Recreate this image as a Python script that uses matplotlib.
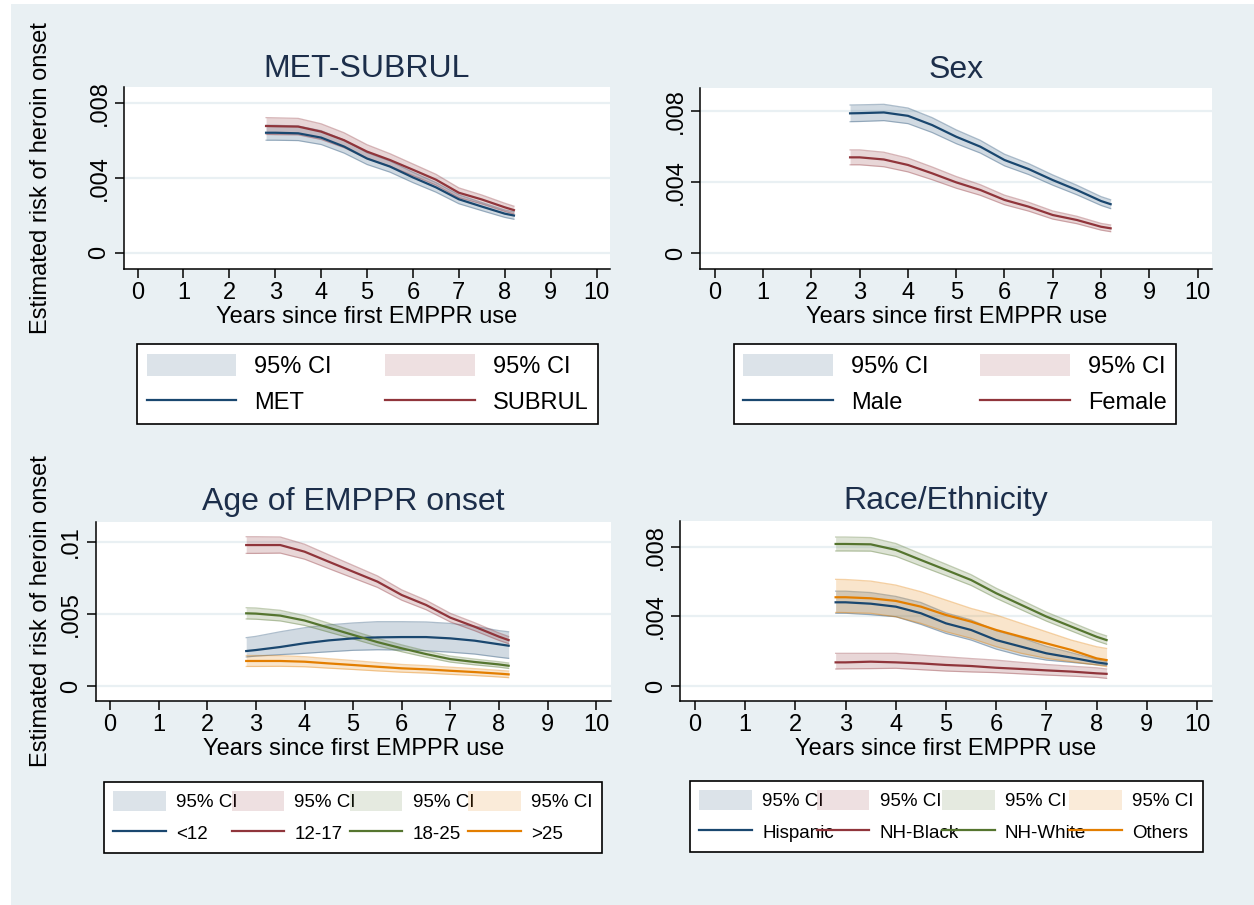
import matplotlib.pyplot as plt
import numpy as np
from matplotlib.lines import Line2D
from matplotlib.patches import Patch, Rectangle

plt.rcParams['font.family'] = ['Liberation Sans', 'DejaVu Sans']

BG = '#e9f0f3'
TITLE_COLOR = '#1c2e4a'
NAVY = '#1a476f'
MAROON = '#90353b'
GREEN = '#55752f'
ORANGE = '#e37e00'

# years since first EMPPR use (evaluation points of the fitted curves)
years = [2.8, 3.0, 3.5, 4.0, 4.5, 5.0, 5.5, 6.0, 6.5, 7.0, 7.5, 8.0, 8.2]

# estimated risk of heroin onset (x 1000) with 95% CI bounds
met = [6.43, 6.43, 6.40, 6.17, 5.69, 5.05, 4.62, 4.04, 3.51, 2.87, 2.48, 2.10, 2.00]
met_lo = [6.03, 6.03, 6.01, 5.80, 5.34, 4.73, 4.32, 3.76, 3.25, 2.63, 2.26, 1.90, 1.80]
met_hi = [6.83, 6.83, 6.79, 6.54, 6.04, 5.37, 4.92, 4.32, 3.77, 3.11, 2.70, 2.30, 2.20]
subrul = [6.79, 6.78, 6.76, 6.49, 6.03, 5.42, 4.97, 4.45, 3.92, 3.22, 2.86, 2.44, 2.29]
subrul_lo = [6.34, 6.33, 6.32, 6.07, 5.63, 5.05, 4.63, 4.14, 3.63, 2.96, 2.62, 2.22, 2.08]
subrul_hi = [7.24, 7.23, 7.20, 6.91, 6.43, 5.79, 5.31, 4.76, 4.21, 3.48, 3.10, 2.66, 2.50]

male = [7.87, 7.88, 7.92, 7.73, 7.21, 6.55, 5.99, 5.24, 4.73, 4.11, 3.55, 2.93, 2.75]
male_lo = [7.40, 7.41, 7.46, 7.29, 6.79, 6.16, 5.63, 4.91, 4.42, 3.82, 3.28, 2.68, 2.50]
male_hi = [8.34, 8.35, 8.38, 8.17, 7.63, 6.94, 6.35, 5.57, 5.04, 4.40, 3.82, 3.18, 3.00]
female = [5.39, 5.39, 5.27, 4.96, 4.49, 3.98, 3.55, 2.99, 2.61, 2.14, 1.86, 1.48, 1.39]
female_lo = [4.97, 4.97, 4.86, 4.57, 4.13, 3.65, 3.25, 2.72, 2.36, 1.91, 1.65, 1.29, 1.20]
female_hi = [5.81, 5.81, 5.68, 5.35, 4.85, 4.31, 3.85, 3.26, 2.86, 2.37, 2.07, 1.67, 1.58]

age_u12 = [2.43, 2.50, 2.71, 2.97, 3.17, 3.31, 3.38, 3.40, 3.40, 3.31, 3.15, 2.90, 2.80]
age_u12_lo = [2.02, 2.08, 2.18, 2.27, 2.38, 2.48, 2.52, 2.50, 2.45, 2.35, 2.22, 2.00, 1.92]
age_u12_hi = [3.36, 3.45, 3.77, 4.05, 4.25, 4.38, 4.47, 4.47, 4.45, 4.35, 4.15, 3.85, 3.77]
age_12_17 = [9.79, 9.79, 9.79, 9.33, 8.63, 7.94, 7.25, 6.32, 5.63, 4.75, 4.12, 3.43, 3.19]
age_12_17_lo = [9.21, 9.21, 9.23, 8.81, 8.15, 7.50, 6.85, 5.96, 5.30, 4.45, 3.84, 3.17, 2.94]
age_12_17_hi = [10.37, 10.37, 10.35, 9.85, 9.11, 8.38, 7.65, 6.68, 5.96, 5.05, 4.40, 3.69, 3.44]
age_18_25 = [5.05, 5.03, 4.89, 4.55, 4.05, 3.55, 3.05, 2.62, 2.22, 1.87, 1.67, 1.50, 1.41]
age_18_25_lo = [4.66, 4.64, 4.52, 4.21, 3.74, 3.27, 2.79, 2.38, 2.00, 1.66, 1.47, 1.31, 1.22]
age_18_25_hi = [5.44, 5.42, 5.26, 4.89, 4.36, 3.83, 3.31, 2.86, 2.44, 2.08, 1.87, 1.69, 1.60]
age_o25 = [1.74, 1.74, 1.74, 1.69, 1.57, 1.46, 1.34, 1.23, 1.16, 1.06, 0.97, 0.86, 0.81]
age_o25_lo = [1.36, 1.36, 1.37, 1.34, 1.24, 1.15, 1.05, 0.96, 0.90, 0.81, 0.73, 0.63, 0.58]
age_o25_hi = [2.12, 2.12, 2.11, 2.04, 1.90, 1.77, 1.63, 1.50, 1.42, 1.31, 1.21, 1.09, 1.04]

hispanic = [4.81, 4.81, 4.73, 4.56, 4.18, 3.60, 3.22, 2.64, 2.26, 1.88, 1.63, 1.36, 1.28]
hispanic_lo = [4.18, 4.18, 4.10, 3.98, 3.54, 3.02, 2.64, 2.12, 1.74, 1.49, 1.36, 1.22, 1.18]
hispanic_hi = [5.45, 5.45, 5.37, 5.15, 4.80, 4.20, 3.80, 3.18, 2.78, 2.28, 1.92, 1.52, 1.40]
nh_black = [1.36, 1.36, 1.40, 1.36, 1.30, 1.21, 1.15, 1.05, 0.98, 0.90, 0.83, 0.73, 0.70]
nh_black_lo = [0.98, 0.99, 1.00, 1.02, 0.94, 0.86, 0.81, 0.77, 0.70, 0.63, 0.57, 0.50, 0.44]
nh_black_hi = [1.88, 1.88, 1.88, 1.88, 1.78, 1.68, 1.58, 1.49, 1.36, 1.24, 1.14, 1.05, 0.98]
nh_white = [8.16, 8.16, 8.14, 7.82, 7.24, 6.67, 6.09, 5.33, 4.66, 3.99, 3.41, 2.83, 2.64]
nh_white_lo = [7.76, 7.76, 7.75, 7.45, 6.89, 6.34, 5.78, 5.04, 4.38, 3.73, 3.16, 2.59, 2.40]
nh_white_hi = [8.56, 8.56, 8.53, 8.19, 7.59, 7.00, 6.40, 5.62, 4.94, 4.25, 3.66, 3.07, 2.88]
others = [5.10, 5.10, 5.04, 4.89, 4.56, 4.08, 3.70, 3.22, 2.83, 2.45, 2.07, 1.59, 1.49]
others_lo = [4.23, 4.22, 4.18, 3.98, 3.60, 3.12, 2.74, 2.26, 1.88, 1.59, 1.40, 1.21, 1.11]
others_hi = [6.13, 6.12, 6.03, 5.80, 5.42, 4.94, 4.46, 4.08, 3.60, 3.12, 2.64, 2.26, 2.16]

ticks_008 = [0, 0.004, 0.008]
labels_008 = ['0', '.004', '.008']
ticks_01 = [0, 0.005, 0.01]
labels_01 = ['0', '.005', '.01']

YLABEL = 'Estimated risk of heroin onset'
XLABEL = 'Years since first EMPPR use'

panels = [
    dict(title='MET-SUBRUL', rect=[0.0987, 0.7028, 0.3880, 0.2011],
         ylim=(-0.86e-3, 8.88e-3), yticks=ticks_008, ylabels=labels_008,
         ylabel_x=-0.148, title_pad=7,
         legend_box=(0.1093, 0.5304, 0.3676, 0.0906), legend_fs=17,
         groups=[('MET', met, met_lo, met_hi, NAVY),
                 ('SUBRUL', subrul, subrul_lo, subrul_hi, MAROON)]),
    dict(title='Sex', rect=[0.5586, 0.7028, 0.4079, 0.2000],
         ylim=(-0.90e-3, 9.30e-3), yticks=ticks_008, ylabels=labels_008,
         ylabel_x=None, title_pad=7,
         legend_box=(0.5853, 0.5304, 0.3525, 0.0906), legend_fs=17,
         groups=[('Male', male, male_lo, male_hi, NAVY),
                 ('Female', female, female_lo, female_hi, MAROON)]),
    dict(title='Age of EMPPR onset', rect=[0.0762, 0.2254, 0.4108, 0.1978],
         ylim=(-1.04e-3, 11.39e-3), yticks=ticks_01, ylabels=labels_01,
         ylabel_x=-0.085, title_pad=9,
         legend_box=(0.0829, 0.0530, 0.3971, 0.0884), legend_fs=13.5,
         groups=[('<12', age_u12, age_u12_lo, age_u12_hi, NAVY),
                 ('12-17', age_12_17, age_12_17_lo, age_12_17_hi, MAROON),
                 ('18-25', age_18_25, age_18_25_lo, age_18_25_hi, GREEN),
                 ('>25', age_o25, age_o25_lo, age_o25_hi, ORANGE)]),
    dict(title='Race/Ethnicity', rect=[0.5423, 0.2254, 0.4242, 0.1989],
         ylim=(-0.86e-3, 9.48e-3), yticks=ticks_008, ylabels=labels_008,
         ylabel_x=None, title_pad=9,
         legend_box=(0.5502, 0.0541, 0.4091, 0.0884), legend_fs=13.5,
         groups=[('Hispanic', hispanic, hispanic_lo, hispanic_hi, NAVY),
                 ('NH-Black', nh_black, nh_black_lo, nh_black_hi, MAROON),
                 ('NH-White', nh_white, nh_white_lo, nh_white_hi, GREEN),
                 ('Others', others, others_lo, others_hi, ORANGE)]),
]

fig = plt.figure(figsize=(12.54, 9.05), dpi=100, facecolor='white')
# graph region (leaves a thin white strip at the left and top)
fig.patches.append(Rectangle((11 / 1254, 0), 1 - 11 / 1254, 1 - 4 / 905,
                             transform=fig.transFigure, facecolor=BG,
                             edgecolor='none', zorder=-10))

x = np.array(years)
for p in panels:
    ax = fig.add_axes(p['rect'])
    ax.set_facecolor('white')

    # CI bands first, then the point estimates on top
    for label, mid, lo, hi, color in p['groups']:
        lo = np.array(lo) * 1e-3
        hi = np.array(hi) * 1e-3
        ax.fill_between(x, lo, hi, color=color, alpha=0.2, lw=0, zorder=2)
        ax.plot(x, lo, color=color, alpha=0.35, lw=0.9, zorder=2)
        ax.plot(x, hi, color=color, alpha=0.35, lw=0.9, zorder=2)
    for label, mid, lo, hi, color in p['groups']:
        ax.plot(x, np.array(mid) * 1e-3, color=color, lw=1.6, zorder=3)

    ax.set_xlim(-0.3, 10.3)
    ax.set_ylim(*p['ylim'])
    ax.set_xticks(range(11))
    ax.set_yticks(p['yticks'], labels=p['ylabels'])
    for lbl in ax.get_yticklabels():
        lbl.set_rotation(90)
        lbl.set_va('center')
    ax.grid(axis='y', color=BG, lw=1.6, zorder=1)
    ax.set_axisbelow(True)
    for side in ('top', 'right'):
        ax.spines[side].set_visible(False)
    for side in ('left', 'bottom'):
        ax.spines[side].set_linewidth(1.1)
    ax.tick_params(direction='out', length=6.5, width=1.1, labelsize=17, pad=3)

    ax.set_title(p['title'], fontsize=23, color=TITLE_COLOR, pad=p['title_pad'])
    ax.set_xlabel(XLABEL, fontsize=17, labelpad=1)
    if p['ylabel_x'] is not None:
        ax.set_ylabel(YLABEL, fontsize=17)
        ax.yaxis.set_label_coords(p['ylabel_x'], 0.5)

    handles, names = [], []
    for label, mid, lo, hi, color in p['groups']:
        handles.append(Patch(facecolor=color, alpha=0.15, edgecolor='none'))
        names.append('95% CI')
        handles.append(Line2D([], [], color=color, lw=1.6))
        names.append(label)

    big = p['legend_fs'] > 15
    leg = ax.legend(handles, names, ncol=len(p['groups']), mode='expand',
                    loc='center', bbox_to_anchor=p['legend_box'],
                    bbox_transform=fig.transFigure, fontsize=p['legend_fs'],
                    handlelength=3.8 if big else 2.8,
                    handleheight=1.1 if big else 1.3,
                    handletextpad=0.75 if big else 0.55,
                    labelspacing=0.5 if big else 0.6,
                    borderpad=0.4 if big else 0.5,
                    borderaxespad=0, fancybox=False, framealpha=1,
                    facecolor='white', edgecolor='black')
    leg.get_frame().set_linewidth(1.2)

fig.savefig('out.png', dpi=100, facecolor=fig.get_facecolor())
